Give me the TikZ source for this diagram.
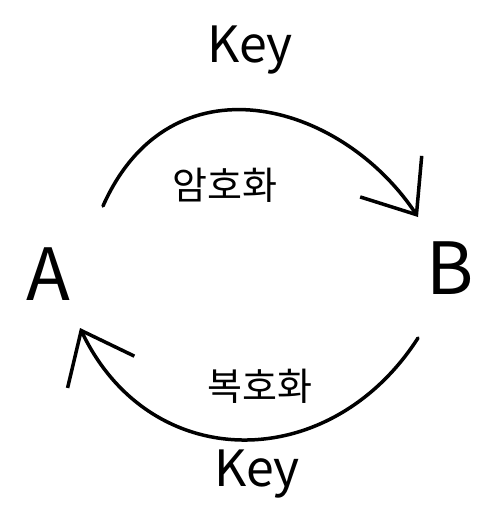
\documentclass[tikz,border=0pt]{standalone}
\usepackage{fontspec}
\setmainfont{Noto Sans CJK KR}
\usetikzlibrary{arrows.meta}
\begin{document}
\begin{tikzpicture}[x=1pt,y=-1pt,line cap=round,
 party/.style={inner sep=0pt,font=\fontsize{72}{76}\selectfont},
 keylbl/.style={inner sep=0pt,font=\fontsize{50}{54}\selectfont},
 steplbl/.style={inner sep=0pt,font=\fontsize{38}{42}\selectfont},
 flow/.style={line width=3.5pt,-{Straight Barb[length=46pt,width=74pt]}}]
 \useasboundingbox (0,0) rectangle (497,527);
 \node[party] (A) at (48,274) {A};
 \node[party] (B) at (450,268) {B};
 \node[keylbl] (keytop) at (250,50) {Key};
 \node[keylbl] (keybot) at (257,474) {Key};
 \node[steplbl] (enc) at (225,185) {암호화};
 \node[steplbl] (dec) at (260,386) {복호화};
 \coordinate (encstart) at (103,206);
 \coordinate (encend) at (418,217);
 \coordinate (decstart) at (418,338);
 \coordinate (decend) at (80,328);
 \draw[flow] (encstart) .. controls (170,55) and (340,100) .. (encend);
 \draw[flow] (decstart) .. controls (330,475) and (150,475) .. (decend);
\end{tikzpicture}
\end{document}
